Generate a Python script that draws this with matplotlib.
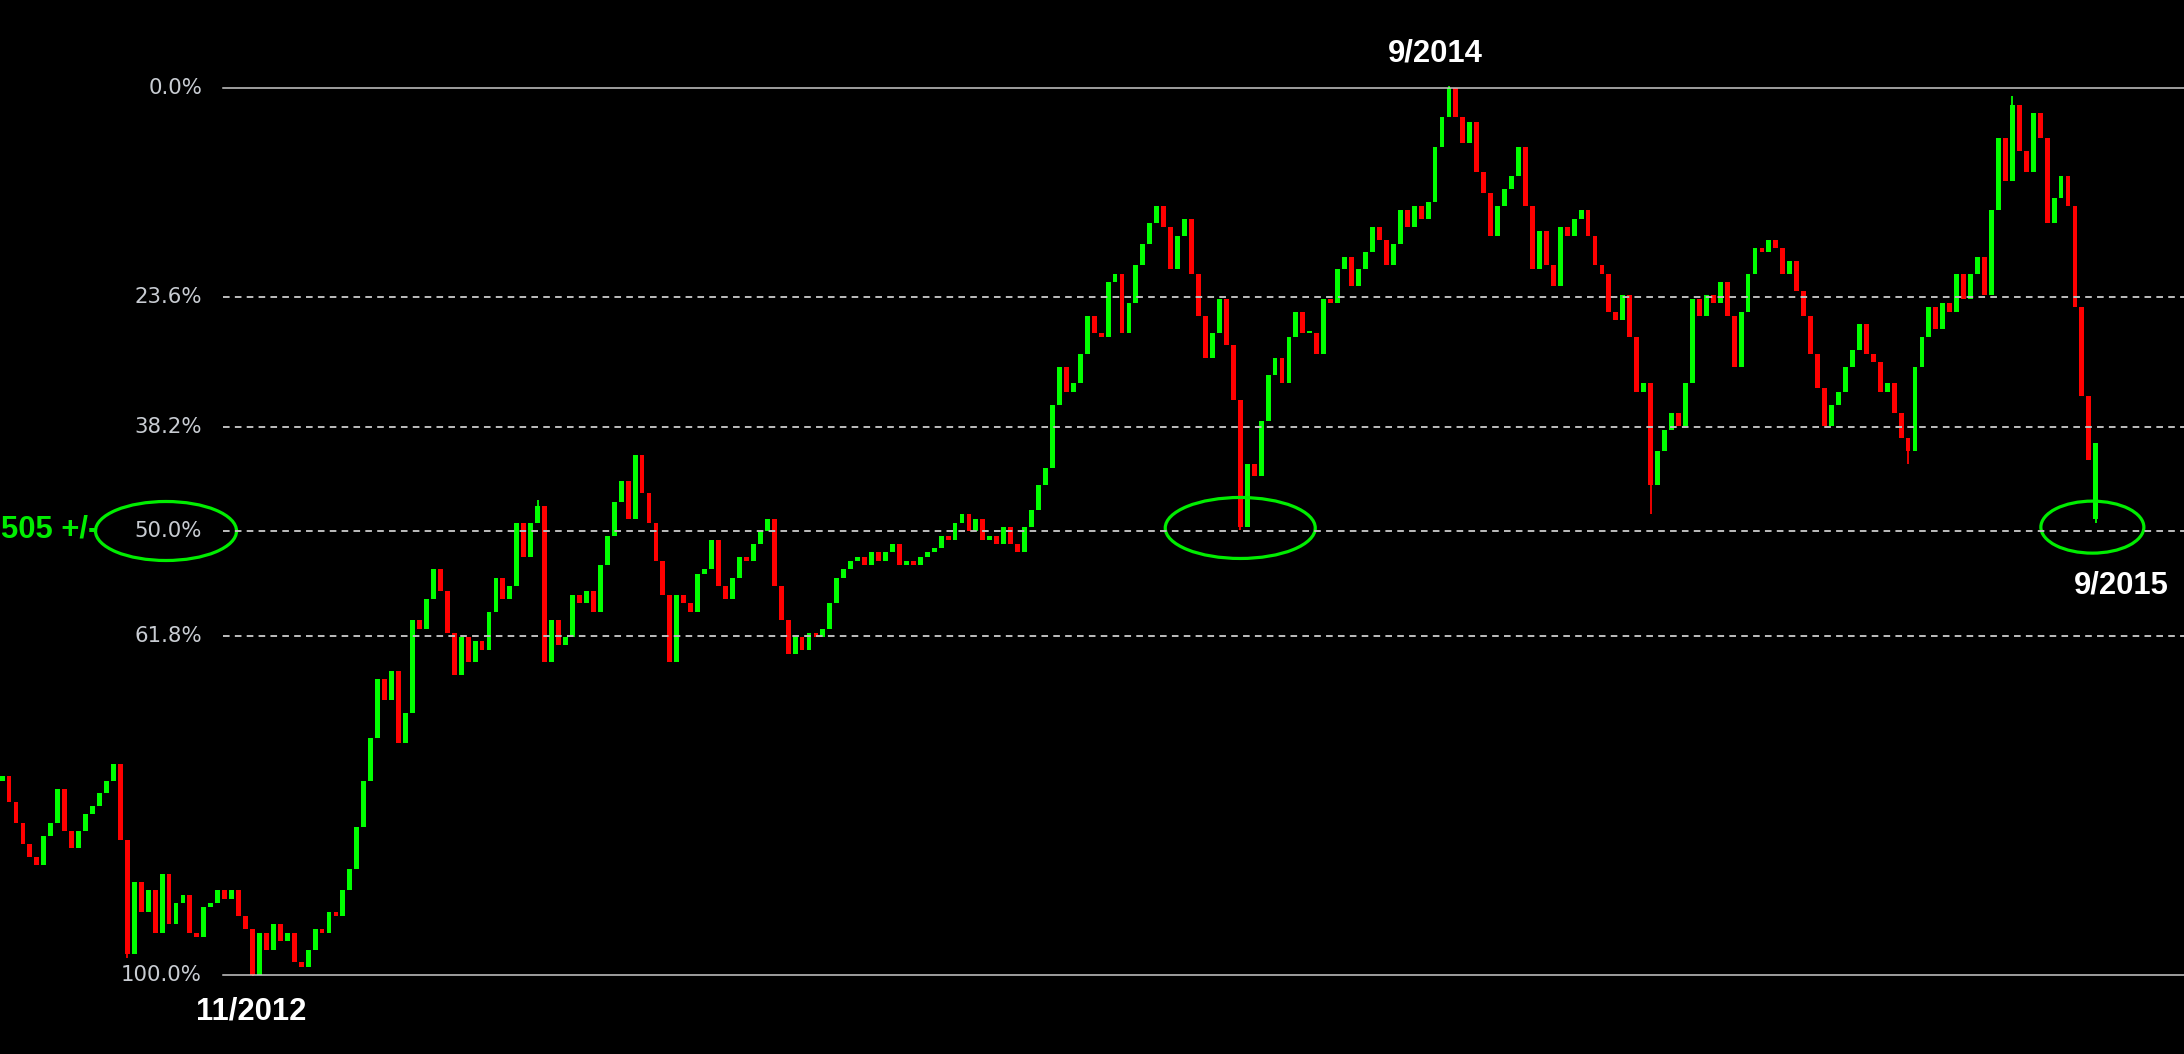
import matplotlib
matplotlib.use('Agg')
import matplotlib.pyplot as plt
import matplotlib.transforms as mtransforms
from matplotlib.patches import Ellipse
import numpy as np

## Data: daily closes (price units, 50% level = 505)
first_open = 446
closes = [
    447, 441, 436, 431, 428, 426, 433, 436, 444, 434,
    430, 434, 438, 440, 443, 446, 450, 432, 405, 422,
    415, 420, 410, 424, 412, 417, 419, 410, 409, 416,
    417, 420, 418, 420, 414, 411, 400, 410, 406, 412,
    408, 410, 403, 402, 406, 411, 410, 415, 414, 420,
    425, 435, 446, 456, 470, 465, 472, 455, 462, 484,
    482, 489, 496, 491, 481, 471, 480, 474, 479, 477,
    486, 494, 489, 492, 507, 499, 507, 511, 474, 484,
    478, 480, 490, 488, 491, 486, 497, 504, 512, 517,
    508, 523, 514, 507, 498, 490, 474, 490, 488, 486,
    495, 496, 503, 492, 489, 494, 499, 498, 502, 505,
    508, 492, 484, 476, 480, 477, 481, 480, 482, 488,
    494, 496, 498, 499, 497, 500, 498, 500, 502, 497,
    498, 497, 499, 500, 501, 504, 503, 507, 509, 505,
    508, 503, 504, 502, 506, 502, 500, 506, 510, 516,
    520, 535, 544, 538, 540, 547, 556, 552, 551, 564,
    566, 552, 559, 568, 573, 578, 582, 577, 567, 575,
    579, 566, 556, 546, 552, 560, 549, 536, 506, 521,
    518, 531, 542, 546, 540, 551, 557, 552, 552, 547,
    560, 559, 567, 570, 563, 567, 571, 577, 574, 568,
    573, 581, 577, 582, 579, 583, 596, 603, 610, 603,
    597, 602, 590, 585, 575, 582, 586, 589, 596, 582,
    567, 576, 568, 563, 577, 575, 579, 581, 575, 568,
    566, 557, 555, 561, 551, 538, 540, 516, 524, 529,
    533, 530, 540, 560, 556, 561, 559, 564, 556, 544,
    557, 566, 572, 571, 574, 572, 566, 569, 562, 556,
    547, 539, 530, 535, 538, 544, 548, 554, 547, 545,
    538, 540, 533, 527, 524, 544, 551, 558, 553, 559,
    557, 566, 560, 566, 570, 561, 581, 598, 588, 606,
    595, 590, 604, 598, 578, 584, 589, 582, 558, 537,
    522, 526,
]
# bars that opened away from the prior close
gap_idx = [301]
gap_open = [508]
# long tails on a few bars
spike_idx = [18, 36, 178, 237, 274, 301]
spike_low = [404, 399.8, 505.3, 509, 521, 507]
peak_idx = [77, 208, 289]
peak_high = [512.5, 610.3, 608]

swing_high = 610
swing_low = 400
fib_pcts = [0.0, 23.6, 38.2, 50.0, 61.8, 100.0]
fib_labels = ['0.0%', '23.6%', '38.2%', '50.0%', '61.8%', '100.0%']
date_labels = ['11/2012', '9/2014', '9/2015']
target_label = '505 +/-'
circled_idx = [178, 300.5]

W, H = 2184, 1054
GREEN = '#00ff00'
RED = '#ff0000'
MARK = '#00ee00'

fig = plt.figure(figsize=(W / 100, H / 100), dpi=100, facecolor='black')
ax = fig.add_axes([0, 0, 1, 1])
ax.set_facecolor('black')
ax.axis('off')

closes = np.array(closes, dtype=float)
opens = np.concatenate([[first_open], closes[:-1]])
opens[gap_idx] = gap_open
x = np.arange(len(closes))
colors = np.where(closes >= opens, GREEN, RED)
body = np.maximum(np.abs(closes - opens), 0.4)
bottom = np.minimum(opens, closes)
ax.bar(x, body, bottom=bottom, width=0.7, color=colors, linewidth=0)

# Wicks
for i, lo in zip(spike_idx, spike_low):
    ax.vlines(i, lo, bottom[i], color=colors[i], lw=1.3)
for i, hi in zip(peak_idx, peak_high):
    ax.vlines(i, bottom[i] + body[i], hi, color=colors[i], lw=1.3)

## Fibonacci levels
lab_trans = mtransforms.blended_transform_factory(ax.transAxes, ax.transData)
fib_prices = [swing_high - p / 100 * (swing_high - swing_low) for p in fib_pcts]
for p, price, lab in zip(fib_pcts, fib_prices, fib_labels):
    if p in (0.0, 100.0):
        ax.axhline(price, xmin=223 / W, xmax=1, color='#c8c8c8', lw=1.1)
    else:
        ax.axhline(price, xmin=223 / W, xmax=1, color='#bebebe', lw=1.4,
                   linestyle=(0, (3.4, 2.7)))
    ax.text(202 / W, price, lab, transform=lab_trans, ha='right', va='center',
            fontsize=15.3, color='#c8ccd2', family='DejaVu Sans')

px_per_idx = 6.956
px_per_unit = 887.3 / (swing_high - swing_low)
ax.set_xlim(-0.3, -0.3 + W / px_per_idx)
ax.set_ylim(swing_low - (H - 975) / px_per_unit, swing_high + 87.7 / px_per_unit)

# Ellipses round the 50% label and the two tests of it
fib50 = fib_prices[3]
ax.add_patch(Ellipse((166 / W, 1 - 531 / H), 141 / W, 59 / H, transform=ax.transAxes,
                     fill=False, edgecolor=MARK, lw=2.3))
ax.add_patch(Ellipse((circled_idx[0], fib50 + 0.8), 150 / px_per_idx, 61 / px_per_unit,
                     fill=False, edgecolor=MARK, lw=2.3))
ax.add_patch(Ellipse((circled_idx[1], fib50 + 1.0), 103 / px_per_idx, 52 / px_per_unit,
                     fill=False, edgecolor=MARK, lw=2.3))

bold = dict(family='Liberation Sans', fontweight='bold', fontsize=22.3)
ax.text(98 / W, 1 - 529 / H, target_label, transform=ax.transAxes, ha='right',
        va='center', color=MARK, **bold)
date_pos = [(251, 1012), (1435, 53), (2121, 586)]
for lab, (px, py) in zip(date_labels, date_pos):
    ax.text(px / W, 1 - py / H, lab, transform=ax.transAxes, ha='center',
            va='center', color='white', **bold)

fig.savefig('out.png', dpi=100, facecolor='black')
